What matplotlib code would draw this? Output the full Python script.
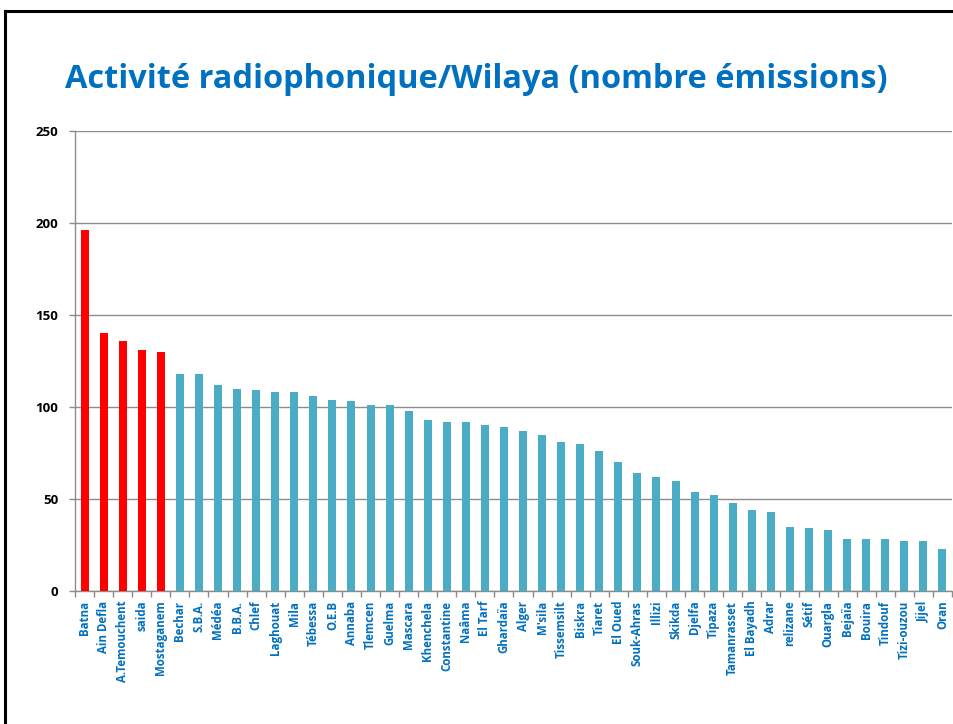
import matplotlib
matplotlib.use("Agg")
import matplotlib.pyplot as plt
from matplotlib.lines import Line2D
import numpy as np

wilayas = ["Batna", "Ain Defla", "A.Temouchent", "saida", "Mostaganem", "Bechar", "S.B.A.",
           "Médéa", "B.B.A.", "Chlef", "Laghouat", "Mila", "Tébessa", "O.E.B", "Annaba",
           "Tlemcen", "Guelma", "Mascara", "Khenchela", "Constantine", "Naâma", "El Tarf",
           "Ghardaïa", "Alger", "M'sila", "Tissemsilt", "Biskra", "Tiaret", "El Oued",
           "Souk-Ahras", "Illizi", "Skikda", "Djelfa", "Tipaza", "Tamanrasset", "El Bayadh",
           "Adrar", "relizane", "Sétif", "Ouargla", "Bejaïa", "Bouira", "Tindouf",
           "Tizi-ouzou", "Jijel", "Oran"]
emissions = [196, 140, 136, 131, 130, 118, 118, 112, 110, 109, 108, 108, 106, 104, 103,
             101, 101, 98, 93, 92, 92, 90, 89, 87, 85, 81, 80, 76, 70, 64, 62, 60, 54, 52,
             48, 44, 43, 35, 34, 33, 28, 28, 28, 27, 27, 23]
n_top = 5
yticks = [0, 50, 100, 150, 200, 250]

plt.rcParams['font.family'] = ['Open Sans', 'DejaVu Sans']

fig = plt.figure(figsize=(9.54, 7.24), dpi=100)
ax = fig.add_axes([75/954, 1-591/724, 877/954, 460/724])

x = np.arange(len(wilayas))
colors = ["#FF0000" if i < n_top else "#4BACC6" for i in range(len(wilayas))]
ax.bar(x, emissions, width=0.42, color=colors, zorder=3)

ax.set_xlim(-0.5, len(wilayas) - 0.5)
ax.set_ylim(0, 250)
ax.set_yticks(yticks)
ax.set_yticklabels([str(v) for v in yticks], fontsize=9.5, fontweight='bold', color='black')
ax.yaxis.grid(True, color='#8c8c8c', linewidth=1, zorder=0)
ax.set_axisbelow(True)

ax.set_xticks(x)
ax.set_xticklabels(wilayas, rotation=90, fontsize=8.3, fontweight='bold', color='#0070C0')
ax.tick_params(axis='x', which='major', length=0, pad=7)
ax.set_xticks(np.arange(-0.5, len(wilayas), 1), minor=True)
ax.tick_params(axis='x', which='minor', length=4, color='#8c8c8c', width=1, direction='out')
ax.tick_params(axis='y', length=4, color='#8c8c8c', width=1, pad=8)

for s in ['top', 'right']:
    ax.spines[s].set_visible(False)
for s in ['left', 'bottom']:
    ax.spines[s].set_color('#8c8c8c')
    ax.spines[s].set_linewidth(1)

fig.text(65/954, 1-88/724, "Activité radiophonique/Wilaya (nombre émissions)",
         fontsize=23.4, fontweight='bold', color='#0070C0', ha='left', va='baseline')

# slide frame
fig.add_artist(Line2D([5/954, 5/954], [0, 1-11/724], color='black', linewidth=2.2,
                      transform=fig.transFigure))
fig.add_artist(Line2D([5/954, 1], [1-11/724, 1-11/724], color='black', linewidth=2.2,
                      transform=fig.transFigure))

fig.savefig("out.png", dpi=100)
